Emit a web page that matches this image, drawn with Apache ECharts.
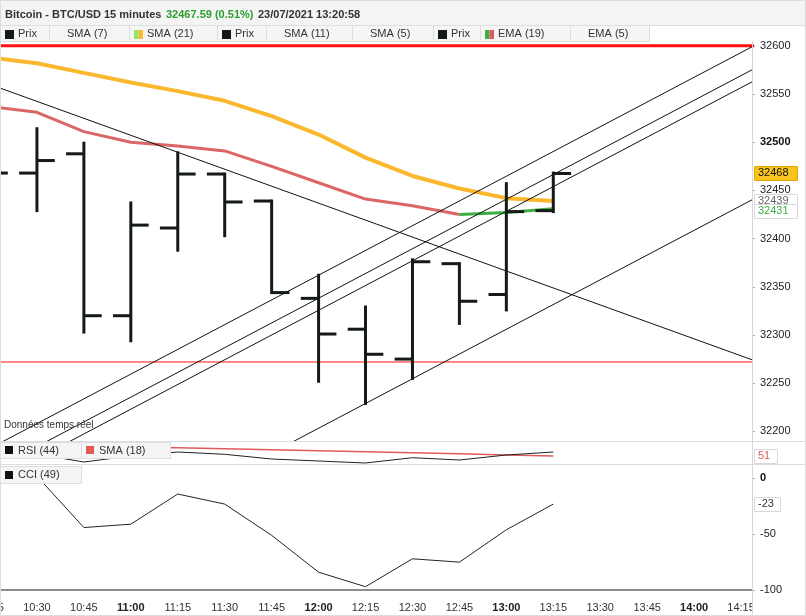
<!DOCTYPE html>
<html><head><meta charset="utf-8">
<script src="https://cdn.jsdelivr.net/npm/echarts@6/dist/echarts.min.js"></script>
<style>html,body{margin:0;padding:0;background:#fff}#c{width:806px;height:616px}</style>
</head><body><div id="c"></div>
<script>
// ---- data (x = minutes after 10:00) ----
const times   = [15, 30, 45, 60, 75, 90, 105, 120, 135, 150, 165, 180, 195];
const opens   = [32472, 32468, 32488, 32320, 32411, 32467, 32439, 32338, 32306, 32275, 32374, 32342, 32429];
const highs   = [32480, 32514, 32499, 32437, 32489, 32467, 32439, 32362, 32329, 32378, 32374, 32457, 32468];
const lows    = [32455, 32429, 32303, 32294, 32388, 32403, 32344, 32252, 32229, 32255, 32312, 32326, 32428];
const closes  = [32468, 32481, 32320, 32414, 32467, 32438, 32344, 32301, 32280, 32376, 32335, 32428, 32467.59];
const sma21   = [32588, 32582, 32572, 32562, 32553, 32543, 32527, 32508, 32484, 32465, 32452, 32442, 32439];
const ema19   = [32537, 32531, 32511, 32500, 32496, 32491, 32475, 32458, 32441, 32434, 32425, 32427, 32431];
const emaRiseFrom = 10; // index where EMA turns green
const rsi44   = [54, 53, 45, 51, 55, 52.7, 48, 46, 44, 49.3, 47, 52, 55];
const rsiSma18= [61, 60.5, 60, 59.7, 59.3, 58.3, 57.3, 56.3, 55.2, 54.2, 53.2, 52.1, 51];
const cci49   = [null, 2, -44, -41, -14, -23, -51, -84, -97, -72, -75, -46, -23];
const priceTicks = [32200, 32250, 32300, 32350, 32400, 32450, 32500, 32550, 32600];
const cciTicks = [0, -50, -100];
const redLevels = [32600, 32272];
const lineDesc = [[15, 32560], [260, 32272.5]];
const chanA = [[15, 32182.4], [260, 32601.6]];
const chanB = [[15, 32158.5], [260, 32577.7]];
const chanC = [[15, 32146.0], [260, 32565.2]];
const chanD = [[15, 32023.6], [260, 32442.8]];

const FONT = "'Liberation Sans', Arial, sans-serif";
const chart = echarts.init(document.getElementById('c'), null, {renderer: 'canvas'});

function tfmt(v) {
  if (Math.abs(v % 15) > 1e-6) return '';
  const h = 10 + Math.floor(v / 60), m = v % 60;
  const s = h + ':' + (m < 10 ? '0' : '') + m;
  return m === 0 ? '{b|' + s + '}' : s;
}
const xBase = {type: 'value', min: 15, max: 258.5, interval: 15,
  axisLine: {show: false}, axisTick: {show: false}, splitLine: {show: false}};

const ohlc = times.map((t, i) => [t, opens[i], closes[i], lows[i], highs[i]]);
const pair = (arr) => times.map((t, i) => [t, arr[i]]);
const emaRed = times.map((t, i) => [t, i <= emaRiseFrom ? ema19[i] : null]);
const emaGreen = times.map((t, i) => [t, i >= emaRiseFrom ? ema19[i] : null]);

const blackLine = (d) => ({type: 'line', data: d, xAxisIndex: 0, yAxisIndex: 0, showSymbol: false, silent: true, z: 4,
  lineStyle: {color: '#111', width: 1}, clip: true});

const gridBase = {left: -10, right: 54, containLabel: false, outerBoundsMode: 'none'};
const option = {
  animation: false,
  textStyle: {fontFamily: FONT},
  grid: [
    Object.assign({top: 42, height: 399}, gridBase),
    Object.assign({top: 441, height: 23}, gridBase),
    Object.assign({top: 465, height: 134}, gridBase)
  ],
  xAxis: [
    Object.assign({gridIndex: 0, axisLabel: {show: false}}, xBase),
    Object.assign({gridIndex: 1, axisLabel: {show: false}}, xBase),
    Object.assign({gridIndex: 2, axisLabel: {show: true, formatter: tfmt, color: '#333', fontSize: 11, margin: 3,
      fontFamily: FONT, rich: {b: {fontWeight: 'bold', fontSize: 11, color: '#222', fontFamily: FONT}}}}, xBase)
  ],
  yAxis: [
    {gridIndex: 0, type: 'value', position: 'right', min: 32190, max: 32604, splitLine: {show: false},
     axisLine: {show: true, lineStyle: {color: '#d0d0d0'}},
     axisTick: {show: true, length: 3, customValues: priceTicks, lineStyle: {color: '#aaa'}},
     axisLabel: {customValues: priceTicks, color: '#222', fontSize: 11, margin: 8, fontFamily: FONT,
       formatter: v => v === 32500 ? '{b|' + v + '}' : String(v),
       rich: {b: {fontWeight: 'bold', fontSize: 11, color: '#111', fontFamily: FONT}}}},
    {gridIndex: 1, type: 'value', position: 'right', min: 43, max: 66, splitLine: {show: false},
     axisLine: {show: true, lineStyle: {color: '#d0d0d0'}}, axisTick: {show: false}, axisLabel: {show: false}},
    {gridIndex: 2, type: 'value', position: 'right', min: -108, max: 12, splitLine: {show: false},
     axisLine: {show: true, lineStyle: {color: '#d0d0d0'}},
     axisTick: {show: true, length: 3, customValues: cciTicks, lineStyle: {color: '#aaa'}},
     axisLabel: {customValues: cciTicks, color: '#222', fontSize: 11, margin: 8, fontFamily: FONT,
       formatter: v => v === 0 ? '{b|0}' : String(v),
       rich: {b: {fontWeight: 'bold', fontSize: 11, color: '#111', fontFamily: FONT}}}}
  ],
  series: [
    {type: 'line', name: 'SMA (21)', data: pair(sma21), xAxisIndex: 0, yAxisIndex: 0, showSymbol: false, z: 2,
     lineStyle: {color: '#fbb82e', width: 4}},
    {type: 'line', name: 'EMA (19)', data: emaRed, xAxisIndex: 0, yAxisIndex: 0, showSymbol: false, z: 2,
     lineStyle: {color: '#dc6565', width: 3}},
    {type: 'line', name: 'EMA (19) up', data: emaGreen, xAxisIndex: 0, yAxisIndex: 0, showSymbol: false, z: 2,
     lineStyle: {color: '#3cb043', width: 3}},
    {type: 'line', data: [[15, redLevels[0]], [260, redLevels[0]]], xAxisIndex: 0, yAxisIndex: 0, showSymbol: false, z: 3,
     lineStyle: {color: '#ff1010', width: 3}},
    {type: 'line', data: [[15, redLevels[1]], [260, redLevels[1]]], xAxisIndex: 0, yAxisIndex: 0, showSymbol: false, z: 3,
     lineStyle: {color: '#ff1010', width: 1}},
    blackLine(lineDesc), blackLine(chanA), blackLine(chanB), blackLine(chanC), blackLine(chanD),
    {type: 'custom', name: 'Prix', data: ohlc, xAxisIndex: 0, yAxisIndex: 0, z: 5, clip: true,
     encode: {x: 0, y: [1, 2, 3, 4]},
     renderItem: function (params, api) {
       const x = api.value(0);
       const pH = api.coord([x, api.value(4)]), pL = api.coord([x, api.value(3)]);
       const pO = api.coord([x, api.value(1)]), pC = api.coord([x, api.value(2)]);
       const w = api.size([15, 0])[0] * 0.38;
       const st = {stroke: '#141a14', lineWidth: 3, lineCap: 'butt'};
       return {type: 'group', children: [
         {type: 'line', shape: {x1: pH[0], y1: pH[1] - 1.5, x2: pL[0], y2: pL[1] + 1.5}, style: st},
         {type: 'line', shape: {x1: pO[0] - w, y1: pO[1], x2: pO[0], y2: pO[1]}, style: st},
         {type: 'line', shape: {x1: pC[0], y1: pC[1], x2: pC[0] + w, y2: pC[1]}, style: st}
       ]};
     }},
    {type: 'line', name: 'SMA (18)', data: pair(rsiSma18), xAxisIndex: 1, yAxisIndex: 1, showSymbol: false, z: 2,
     lineStyle: {color: '#e05a5a', width: 1.5}},
    {type: 'line', name: 'RSI (44)', data: pair(rsi44), xAxisIndex: 1, yAxisIndex: 1, showSymbol: false, z: 3,
     lineStyle: {color: '#222', width: 1}},
    {type: 'line', name: 'CCI (49)', data: pair(cci49), xAxisIndex: 2, yAxisIndex: 2, showSymbol: false, z: 3,
     lineStyle: {color: '#222', width: 1},
     markLine: {silent: true, symbol: 'none', label: {show: false},
       lineStyle: {color: '#8c8c8c', width: 2, type: 'solid'}, data: [{yAxis: -100}]}}
  ]
};
chart.setOption(option);

// ---- overlay: header, legends, value boxes ----
const g = [];
const T = (x, y, text, opt) => g.push(Object.assign({type: 'text', x: x, y: y, z: 100,
  style: Object.assign({text: text, fill: '#333', font: '11px ' + FONT, textVerticalAlign: 'middle', verticalAlign: 'middle'}, opt || {})}));
const R = (x, y, w, h, fill, stroke, z) => g.push({type: 'rect', z: z || 99, shape: {x: x, y: y, width: w, height: h},
  style: {fill: fill, stroke: stroke || null, lineWidth: 1}});

R(0.5, 0.5, 805, 25, '#f4f4f4', '#dcdcdc');
T(5, 15, 'Bitcoin - BTC/USD', {font: 'bold 11px ' + FONT, fill: '#333'});
T(104, 15, '15 minutes', {font: 'bold 11px ' + FONT, fill: '#333'});
T(166, 15, '32467.59 (0.51%)', {font: 'bold 11px ' + FONT, fill: '#2c9e2c'});
T(258, 15, '23/07/2021 13:20:58', {font: 'bold 11px ' + FONT, fill: '#333'});

const cells = [
  {x: 0, w: 49, text: 'Prix', icon: ['#141a14']},
  {x: 49, w: 80, text: 'SMA (7)'},
  {x: 129, w: 88, text: 'SMA (21)', icon: ['#8ee66a', '#fbb82e']},
  {x: 217, w: 49, text: 'Prix', icon: ['#141a14']},
  {x: 266, w: 86, text: 'SMA (11)'},
  {x: 352, w: 81, text: 'SMA (5)'},
  {x: 433, w: 47, text: 'Prix', icon: ['#141a14']},
  {x: 480, w: 90, text: 'EMA (19)', icon: ['#3cb043', '#e05a5a']},
  {x: 570, w: 79, text: 'EMA (5)'}
];
cells.forEach(c => {
  R(c.x + 0.5, 25.5, c.w, 16, '#f5f5f5', '#dedede');
  if (c.icon) {
    if (c.icon.length === 1) R(c.x + 5, 30, 9, 9, c.icon[0], null, 101);
    else { R(c.x + 5, 30, 4.5, 9, c.icon[0], null, 101); R(c.x + 9.5, 30, 4.5, 9, c.icon[1], null, 101); }
  }
  T(c.x + 18, 34, c.text, {fill: '#333'});
});

// panel separators / frame
const HL = (y, x1, x2, col) => g.push({type: 'line', z: 98, shape: {x1: x1, y1: y, x2: x2, y2: y}, style: {stroke: col, lineWidth: 1}});
HL(441.5, 0, 806, '#dddddd');
HL(464.5, 0, 806, '#dddddd');
R(753, 600, 52, 15, '#ffffff', null, 97);
g.push({type: 'line', z: 98, shape: {x1: 752.5, y1: 42, x2: 752.5, y2: 616}, style: {stroke: '#d6d6d6', lineWidth: 1}});
g.push({type: 'rect', z: 98, shape: {x: 0.5, y: 0.5, width: 805, height: 615}, style: {fill: null, stroke: '#dddddd', lineWidth: 1}});

T(4, 425, 'Données temps réel', {font: '10px ' + FONT, fill: '#333'});
R(0.5, 442.5, 81, 16, '#f5f5f5', '#dedede');
R(5, 446, 8, 8, '#111', null, 101);
T(18, 451, 'RSI (44)');
R(81.5, 442.5, 89, 16, '#f5f5f5', '#dedede');
R(86, 446, 8, 8, '#e05a5a', null, 101);
T(99, 451, 'SMA (18)');
R(0.5, 466.5, 81, 17, '#f5f5f5', '#dedede');
R(5, 471, 8, 8, '#111', null, 101);
T(18, 475, 'CCI (49)');

// right value boxes positioned through axes
const last = times.length - 1;
const py = v => chart.convertToPixel({yAxisIndex: 0}, v);
const ry = v => chart.convertToPixel({yAxisIndex: 1}, v);
const cy = v => chart.convertToPixel({yAxisIndex: 2}, v);
function box(y, text, fill, stroke, color, w) {
  R(754.5, Math.round(y - 7) + 0.5, w || 43, 14, fill, stroke, 110);
  g.push({type: 'text', z: 111, x: 758, y: y, style: {text: text, fill: color, font: '11px ' + FONT, verticalAlign: 'middle'}});
}
box(py(sma21[last]), String(Math.round(sma21[last])), '#ffffff', '#d8d8d8', '#666');
box(py(ema19[last]) + 2, String(Math.round(ema19[last])), '#ffffff', '#d8d8d8', '#3cb043');
box(py(closes[last]), String(Math.round(closes[last])), '#f7c51e', '#e0a800', '#111');
box(ry(rsiSma18[last]), String(Math.round(rsiSma18[last])), '#ffffff', '#d8d8d8', '#e05a5a', 23);
box(cy(cci49[last]), String(Math.round(cci49[last])), '#ffffff', '#d8d8d8', '#333', 26);

chart.setOption({graphic: {elements: g}});
</script>
</body></html>
